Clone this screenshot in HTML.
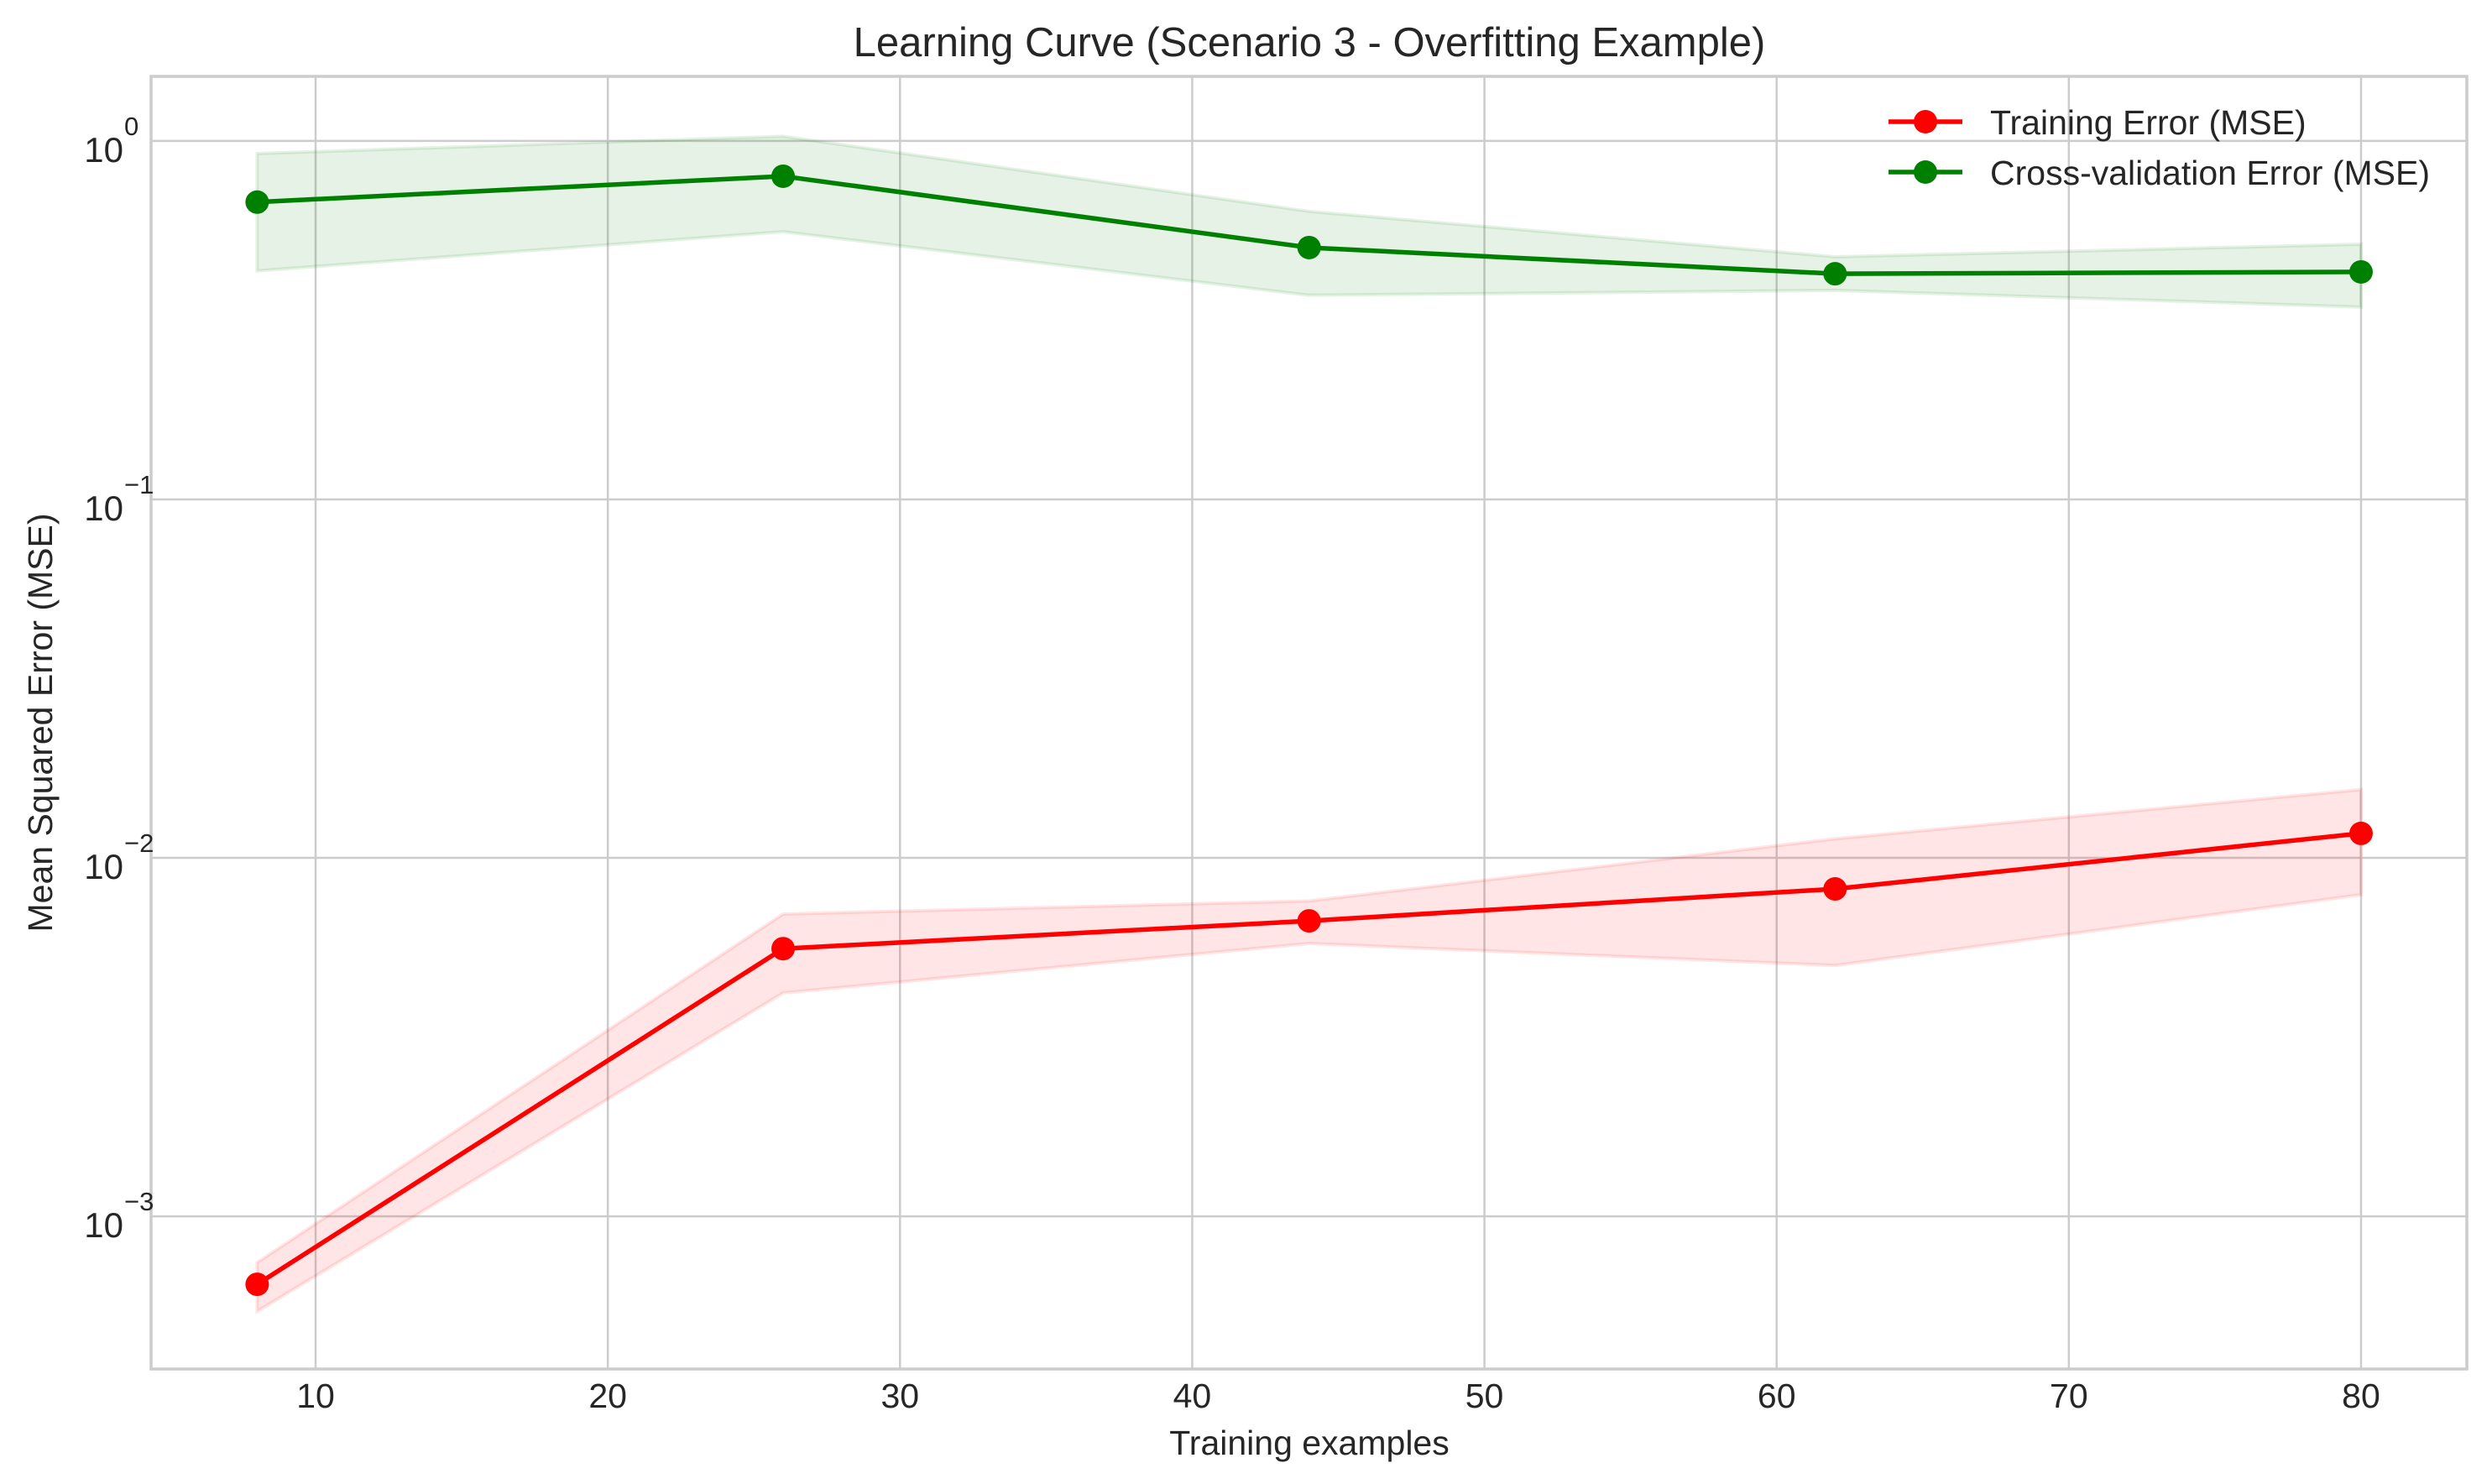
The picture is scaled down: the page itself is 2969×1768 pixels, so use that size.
<!DOCTYPE html>
<html><head><meta charset="utf-8"><style>
html,body{margin:0;padding:0;background:#fff;}
svg{display:block;font-family:"Liberation Sans",Arial,sans-serif;}
</style></head><body>
<svg id="chart" width="2969" height="1768" viewBox="0 0 2969 1768" xmlns="http://www.w3.org/2000/svg">
<rect width="2969" height="1768" fill="#fff"/>
<g id="grid"></g>
<g id="bands"></g>
<g id="series"></g>
<rect x="180" y="91" width="2759" height="1540" fill="none" stroke="#cccccc" stroke-width="3.5"/>
<g id="ticks"></g>
<text x="1560" y="67" font-size="49" fill="#262626" text-anchor="middle">Learning Curve (Scenario 3 - Overfitting Example)</text>
<text x="1560" y="1733" font-size="41" fill="#262626" text-anchor="middle">Training examples</text>
<text x="0" y="0" font-size="41" fill="#262626" text-anchor="middle" transform="translate(62,861) rotate(-90)">Mean Squared Error (MSE)</text>
<g>
  <g>
    <line x1="2250" y1="145" x2="2338" y2="145" stroke="#ff0000" stroke-width="5.5"/>
    <circle cx="2294" cy="145" r="14" fill="#ff0000"/>
    <text x="2371" y="160" font-size="41" fill="#262626">Training Error (MSE)</text>
  </g>
  <g>
    <line x1="2250" y1="205" x2="2338" y2="205" stroke="#008000" stroke-width="5.5"/>
    <circle cx="2294" cy="205" r="14" fill="#008000"/>
    <text x="2371" y="220" font-size="41" fill="#262626">Cross-validation Error (MSE)</text>
  </g>
</g>
</svg>
<script>
const trainSizes = [8, 26, 44, 62, 80];
const trainMean = [0.000646, 0.00558, 0.00667, 0.00819, 0.0117];
const trainUpper = [0.000743, 0.00697, 0.00758, 0.0113, 0.0155];
const trainLower = [0.000543, 0.0042, 0.00577, 0.00501, 0.00789];
const cvMean = [0.675, 0.797, 0.504, 0.426, 0.431];
const cvUpper = [0.922, 1.03, 0.636, 0.475, 0.515];
const cvLower = [0.434, 0.558, 0.371, 0.383, 0.344];
const xTicks = [10, 20, 30, 40, 50, 60, 70, 80];
const yTickExps = [0, -1, -2, -3];

const NS = 'http://www.w3.org/2000/svg';
const L = 180, R = 2939, T = 91, B = 1631;
const xMin = 4.37, xMax = 83.62;
const yMinLog = -3.426, yMaxLog = 0.180;
function xs(v){ return L + (v - xMin) / (xMax - xMin) * (R - L); }
function ys(v){ return B - (Math.log10(v) - yMinLog) / (yMaxLog - yMinLog) * (B - T); }
function mk(tag, attrs, parent){ const e = document.createElementNS(NS, tag); for (const k in attrs) e.setAttribute(k, attrs[k]); parent.appendChild(e); return e; }

const grid = document.getElementById('grid');
const ticks = document.getElementById('ticks');
xTicks.forEach(t => {
  const ln = mk('line', {x1: xs(t), x2: xs(t), y1: T, y2: B, stroke: '#cccccc', 'stroke-width': 2.5}, grid);
  
  
  const tx = mk('text', {x: xs(t), y: 1677, 'font-size': 41, fill: '#262626', 'text-anchor': 'middle'}, ticks);
  tx.textContent = String(t);
  
  
});
yTickExps.forEach(e => {
  const y = ys(Math.pow(10, e));
  const ln = mk('line', {x1: L, x2: R, y1: y, y2: y, stroke: '#cccccc', 'stroke-width': 2.5}, grid);
  
  
  const tx = mk('text', {x: 147, y: y + 25, 'font-size': 42, fill: '#262626', 'text-anchor': 'end'}, ticks);
  tx.textContent = '10';
  
  
  const sp = mk('text', {x: 148, y: y - 7, 'font-size': 31, fill: '#262626', 'text-anchor': 'start'}, ticks);
  sp.textContent = e === 0 ? '0' : '\u2212' + Math.abs(e);
  
  
});

const bands = document.getElementById('bands');
function band(up, lo, color, name){
  let pts = trainSizes.map((x, i) => xs(x) + ',' + ys(up[i]));
  pts = pts.concat(trainSizes.map((x, i) => xs(x) + ',' + ys(lo[i])).reverse());
  const p = mk('polygon', {points: pts.join(' '), fill: color, 'fill-opacity': 0.1, stroke: color, 'stroke-opacity': 0.1, 'stroke-width': 4}, bands);
  
  
}
band(trainUpper, trainLower, '#ff0000', 'training-error-band');
band(cvUpper, cvLower, '#008000', 'cv-error-band');

const series = document.getElementById('series');
function line(vals, color, name){
  const pts = trainSizes.map((x, i) => xs(x) + ',' + ys(vals[i])).join(' ');
  const pl = mk('polyline', {points: pts, fill: 'none', stroke: color, 'stroke-width': 5.5, 'stroke-linejoin': 'round'}, series);
  
  
  trainSizes.forEach((x, i) => {
    const c = mk('circle', {cx: xs(x), cy: ys(vals[i]), r: 14, fill: color}, series);
    
    
  });
}
line(trainMean, '#ff0000', 'training-error');
line(cvMean, '#008000', 'cv-error');
</script>
</body></html>
